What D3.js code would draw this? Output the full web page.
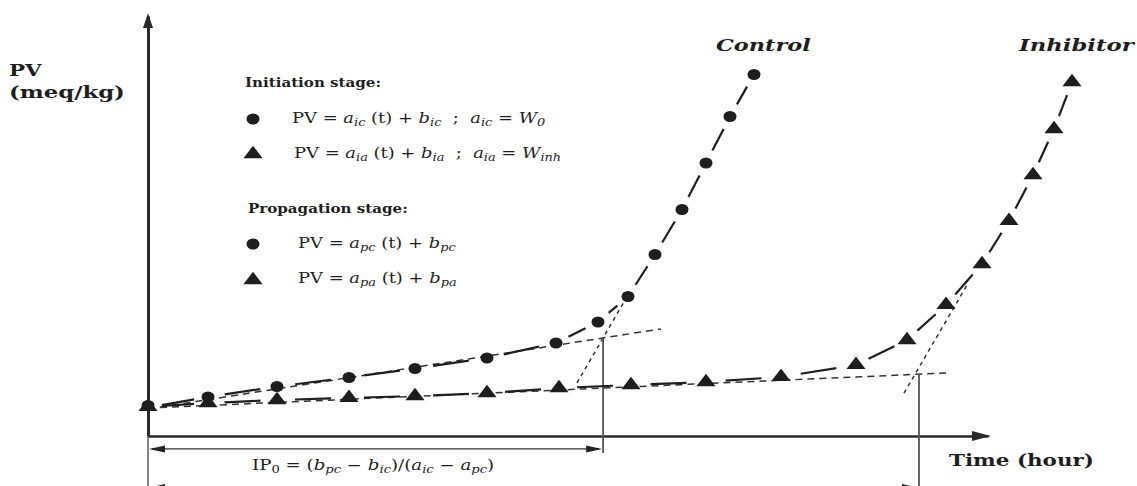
<!DOCTYPE html>
<html><head><meta charset="utf-8">
<script src="https://cdn.jsdelivr.net/npm/d3@7"></script>
<style>
html,body{margin:0;padding:0;background:#fff;}
svg{display:block;}
text{font-family:"DejaVu Serif",serif;fill:#1e1e1e;white-space:pre;}
</style></head>
<body>
<script>
// ---- data (time in arbitrary hours, PV in arbitrary meq/kg) ----
const controlTime = [0, 2.0, 4.3, 6.7, 8.9, 11.3, 13.6, 15.0, 16.0, 16.9, 17.8, 18.6, 19.4, 20.2];
const controlPV   = [0.95, 1.3, 1.65, 1.95, 2.25, 2.6, 3.1, 3.8, 4.65, 6.05, 7.55, 9.1, 10.65, 12.05];
const inhibitorTime = [0, 2.0, 4.3, 6.7, 8.9, 11.3, 13.7, 16.1, 18.6, 21.1, 23.6, 25.3, 26.6, 27.8, 28.7, 29.5, 30.2, 30.8];
const inhibitorPV   = [0.97, 1.1, 1.2, 1.27, 1.33, 1.43, 1.6, 1.7, 1.8, 1.97, 2.37, 3.2, 4.37, 5.73, 7.17, 8.7, 10.23, 11.8];
const controlInitLine   = [[0, 0.9], [17.1, 3.57]];
const controlPropLine   = [[14.3, 1.77], [15.9, 4.53]];
const inhibitorInitLine = [[0, 0.93], [26.6, 2.1]];
const inhibitorPropLine = [[25.2, 1.43], [27.3, 5.03]];
const ipControl = [15.17, 3.25];
const ipInhibitor = [25.7, 2.05];
const seriesLabels = ["Control", "Inhibitor"];
const axisLabels = {y: ["PV", "(meq/kg)"], x: "Time (hour)"};
const stageLabels = ["Initiation stage:", "Propagation stage:"];

const W = 1137, H = 486;
const svg = d3.select("body").append("svg").attr("width", W).attr("height", H);
const x = d3.scaleLinear().domain([0, 28]).range([148, 988]);
const y = d3.scaleLinear().domain([0, 14]).range([436, 16]);
const ink = "#1e1e1e";

// ---- axes ----
const gx = svg.append("g").attr("transform", `translate(0,${y(0)})`)
  .call(d3.axisBottom(x).tickValues([]).tickSizeOuter(0));
gx.select(".domain").attr("stroke", "#2a2a2a").attr("stroke-width", 2.5);
const gy = svg.append("g").attr("transform", `translate(${x(0)},0)`)
  .call(d3.axisLeft(y).tickValues([]).tickSizeOuter(0));
gy.select(".domain").attr("stroke", "#2a2a2a").attr("stroke-width", 3);
svg.append("path").attr("d", `M${x(28)+3},${y(0)} L${x(28)-16},${y(0)-5} L${x(28)-16},${y(0)+5}Z`).attr("fill", "#2a2a2a");
svg.append("path").attr("d", `M${x(0)},${y(14)-3} L${x(0)-5},${y(14)+12} L${x(0)+5},${y(14)+12}Z`).attr("fill", "#2a2a2a");
svg.append("line").attr("x1", x(0)).attr("x2", x(0)).attr("y1", y(0)).attr("y2", y(-1.8))
  .attr("stroke", "#444").attr("stroke-width", 1.3);

// ---- tangent lines ----
const lineGen = d3.line().x(d => x(d[0])).y(d => y(d[1]));
function tangent(data, dash) {
  svg.append("path").attr("d", lineGen(data)).attr("fill", "none")
    .attr("stroke", "#333").attr("stroke-width", 1.5).attr("stroke-dasharray", dash);
}
tangent(controlInitLine, "7,5");
tangent(inhibitorInitLine, "7,5");
tangent(controlPropLine, "4,4");
tangent(inhibitorPropLine, "4,4");

// ---- induction period markers ----
function vline(p, bottom) {
  svg.append("line").attr("x1", x(p[0])).attr("x2", x(p[0])).attr("y1", y(p[1])).attr("y2", y(bottom))
    .attr("stroke", "#555").attr("stroke-width", 1.8);
}
vline(ipControl, -0.57);
vline(ipInhibitor, -1.8);
function dArrow(t, v) {
  const x0 = x(0), x1 = x(t), yy = y(v);
  svg.append("line").attr("x1", x0 + 4).attr("x2", x1 - 4).attr("y1", yy).attr("y2", yy)
    .attr("stroke", "#333").attr("stroke-width", 1.2);
  svg.append("path").attr("d", `M${x0+1},${yy} L${x0+17},${yy-3.5} L${x0+17},${yy+3.5}Z`).attr("fill", "#222");
  svg.append("path").attr("d", `M${x1-1},${yy} L${x1-17},${yy-3.5} L${x1-17},${yy+3.5}Z`).attr("fill", "#222");
}
dArrow(ipControl[0], -0.43);
dArrow(ipInhibitor[0], -1.72);

// ---- data connecting lines (one dash per segment) ----
function series(ts, vs) {
  const pts = ts.map((t, i) => [x(t), y(vs[i])]);
  const g = svg.append("g");
  for (let i = 0; i < pts.length - 1; i++) {
    const [ax, ay] = pts[i], [bx, by] = pts[i + 1];
    const len = Math.hypot(bx - ax, by - ay);
    const dash = Math.min(len - 28, 36);
    const gap = (len - dash) / 2;
    const ux = (bx - ax) / len, uy = (by - ay) / len;
    g.append("line")
      .attr("x1", ax + ux * gap).attr("y1", ay + uy * gap)
      .attr("x2", bx - ux * gap).attr("y2", by - uy * gap)
      .attr("stroke", ink).attr("stroke-width", 2.2);
  }
}
series(controlTime, controlPV);
series(inhibitorTime, inhibitorPV);

const tri = d3.symbol().type(d3.symbolTriangle).size(110);
svg.append("g").selectAll("path").data(inhibitorTime).join("path")
  .attr("d", tri)
  .attr("transform", (t, i) => `translate(${x(t)},${y(inhibitorPV[i])}) scale(1.2,0.9)`)
  .attr("fill", ink);
svg.append("g").selectAll("ellipse").data(controlTime).join("ellipse")
  .attr("cx", t => x(t)).attr("cy", (t, i) => y(controlPV[i]) - (i === 0 ? 2 : 0))
  .attr("rx", 6.5).attr("ry", 5.5).attr("fill", ink);

// ---- text helpers (reference glyphs are horizontally stretched) ----
function label(xp, yp, str, size, sx, opts = {}) {
  const t = svg.append("text").attr("transform", `translate(${xp},${yp}) scale(${sx},1)`)
    .attr("font-size", size).text(str);
  if (opts.b) t.attr("font-weight", "bold");
  if (opts.i) t.attr("font-style", "italic");
  return t;
}
function rich(xp, yp, parts, size, sx) {
  const t = svg.append("text").attr("transform", `translate(${xp},${yp}) scale(${sx},1)`).attr("font-size", size);
  let sub = false;
  parts.forEach(p => {
    const s = t.append("tspan").text(p.t);
    if (p.i) s.attr("font-style", "italic");
    if (p.sub) {
      s.attr("font-size", size * 0.72);
      if (!sub) { s.attr("dy", 3); sub = true; }
    } else if (sub) { s.attr("dy", -3); sub = false; }
  });
  return t;
}

label(9, 76, axisLabels.y[0], 17.5, 1.22, {b: 1});
label(9, 98, axisLabels.y[1], 17.5, 1.3, {b: 1});
label(949, 466, axisLabels.x, 16.5, 1.3, {b: 1});
label(716, 51, seriesLabels[0], 16.5, 1.36, {b: 1, i: 1});
label(1019, 51, seriesLabels[1], 16.5, 1.38, {b: 1, i: 1});

// legend
label(245, 87, stageLabels[0], 13, 1.16, {b: 1});
label(248, 213, stageLabels[1], 13, 1.16, {b: 1});
svg.append("ellipse").attr("cx", 253).attr("cy", 119).attr("rx", 6.5).attr("ry", 5.5).attr("fill", ink);
svg.append("path").attr("d", tri).attr("transform", "translate(253,154) scale(1.2,0.9)").attr("fill", ink);
svg.append("ellipse").attr("cx", 253).attr("cy", 244).attr("rx", 6.5).attr("ry", 5.5).attr("fill", ink);
svg.append("path").attr("d", tri).attr("transform", "translate(253,280) scale(1.2,0.9)").attr("fill", ink);

const sp = "\u00a0";
rich(292, 123, [{t:"PV = "},{t:"a",i:1},{t:"ic",i:1,sub:1},{t:" (t) + "},{t:"b",i:1},{t:"ic",i:1,sub:1},{t:sp+" ; "+sp},{t:"a",i:1},{t:"ic",i:1,sub:1},{t:" = "},{t:"W",i:1},{t:"0",i:1,sub:1}], 14, 1.28);
rich(294, 158, [{t:"PV = "},{t:"a",i:1},{t:"ia",i:1,sub:1},{t:" (t) + "},{t:"b",i:1},{t:"ia",i:1,sub:1},{t:sp+" ; "+sp},{t:"a",i:1},{t:"ia",i:1,sub:1},{t:" = "},{t:"W",i:1},{t:"inh",i:1,sub:1}], 14, 1.28);
rich(298, 248, [{t:"PV = "},{t:"a",i:1},{t:"pc",i:1,sub:1},{t:" (t) + "},{t:"b",i:1},{t:"pc",i:1,sub:1}], 14, 1.28);
rich(298, 283, [{t:"PV = "},{t:"a",i:1},{t:"pa",i:1,sub:1},{t:" (t) + "},{t:"b",i:1},{t:"pa",i:1,sub:1}], 14, 1.28);
rich(252, 470, [{t:"IP"},{t:"0",sub:1},{t:" = ("},{t:"b",i:1},{t:"pc",i:1,sub:1},{t:" − "},{t:"b",i:1},{t:"ic",i:1,sub:1},{t:")/("},{t:"a",i:1},{t:"ic",i:1,sub:1},{t:" − "},{t:"a",i:1},{t:"pc",i:1,sub:1},{t:")"}], 14, 1.3);
</script>
</body></html>
